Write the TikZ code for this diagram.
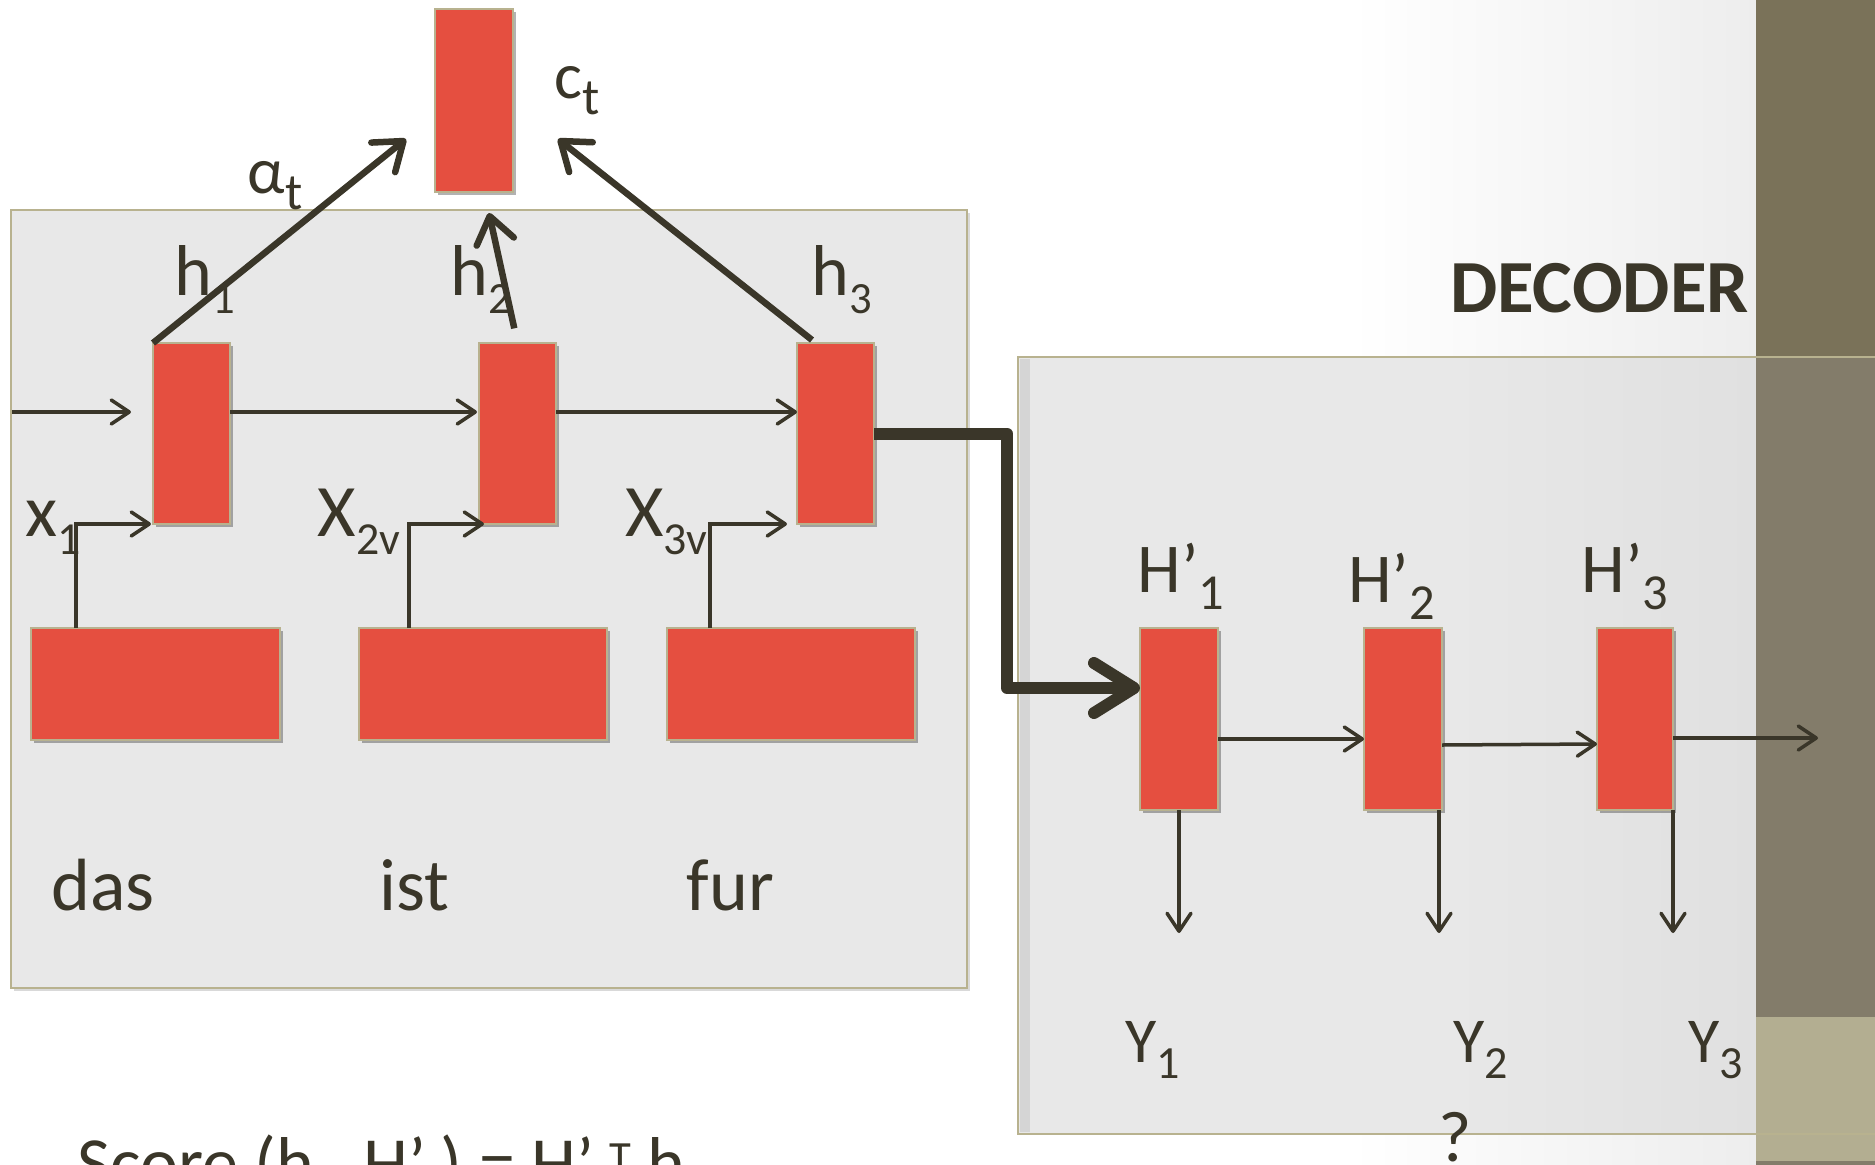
\documentclass[tikz,border=0pt]{standalone}
\usepackage{fontspec}
\setmainfont{Carlito}
\usepackage{graphicx}
\usetikzlibrary{arrows.meta,shadows}
\definecolor{redf}{HTML}{E54F40}
\definecolor{tanb}{HTML}{B8B28F}
\definecolor{boxf}{HTML}{E8E8E8}
\definecolor{boxr}{HTML}{E0E0E0}
\definecolor{ink}{HTML}{3A3629}
\definecolor{bandA}{HTML}{7A7259}
\definecolor{bandB}{HTML}{837C6A}
\definecolor{bandC}{HTML}{B3AE91}
\newcommand\sbx[1]{\raisebox{-0.25em}{\scalebox{0.62}{#1}}}
\newcommand\sbh[1]{\raisebox{-0.25em}{\scalebox{0.72}{#1}}}
\newcommand\sbc[1]{\raisebox{-0.25em}{\scalebox{0.78}{#1}}}
\newcommand\spx[1]{\raisebox{0.2em}{\scalebox{0.62}{#1}}}
\begin{document}
\begin{tikzpicture}[x=1pt,y=-1pt,
 redbox/.style={draw=tanb, line width=2pt, fill=redf, inner sep=0pt, outer sep=0pt,
   drop shadow={shadow xshift=3pt, shadow yshift=-3pt, opacity=0.3, fill=black}},
 panel/.style={draw=tanb, line width=2.5pt, fill=boxf, inner sep=0pt, outer sep=0pt,
   drop shadow={shadow xshift=3pt, shadow yshift=-3pt, opacity=0.15, fill=black}},
 lbl/.style={inner sep=0pt, anchor=base, text=ink, font=\fontsize{72}{86}\selectfont},
 thinarrow/.style={draw=ink, line width=3.5pt, -{Straight Barb[length=18pt,width=24pt,round]}},
 attarrow/.style={draw=ink, line width=6.5pt, -{Straight Barb[length=26pt,width=38pt,round]}},
 bigarrow/.style={draw=ink, line width=12pt, line join=round, -{Straight Barb[length=40pt,width=50pt,round]}},
]
\useasboundingbox (0,0) rectangle (1875,1165);
\fill[white] (0,0) rectangle (1875,1165);
\shade[left color=white, right color=black!7] (1350,0) rectangle (1756,1165);

% encoder panel
\node[panel, minimum width=956pt, minimum height=778pt] (enc) at (489,599) {};

% decoder panel (fill) and right band
\fill[boxf] (1018,357) rectangle (1450,1134);
\shade[left color=boxf, right color=boxr] (1450,357) rectangle (1756,1134);
\fill[black, opacity=0.08] (1020,359) rectangle (1030,1132);
\fill[bandA] (1756,0) rectangle (1875,357);
\fill[bandB] (1756,357) rectangle (1875,1017);
\fill[bandC] (1756,1017) rectangle (1875,1161);
\fill[bandB] (1756,1161) rectangle (1875,1165);
\draw[tanb, line width=2.5pt] (1880,357) -- (1018,357) -- (1018,1134) -- (1880,1134);

% red blocks
\node[redbox, minimum width=78pt, minimum height=183pt] (ct) at (474,100.5) {};
\node[redbox, minimum width=77pt, minimum height=181pt] (h1) at (191.5,433.5) {};
\node[redbox, minimum width=77pt, minimum height=181pt] (h2) at (517.5,433.5) {};
\node[redbox, minimum width=77pt, minimum height=181pt] (h3) at (835.5,433.5) {};
\node[redbox, minimum width=249pt, minimum height=112pt] (w1) at (155.5,684) {};
\node[redbox, minimum width=248pt, minimum height=112pt] (w2) at (483,684) {};
\node[redbox, minimum width=248pt, minimum height=112pt] (w3) at (791,684) {};
\node[redbox, minimum width=78pt, minimum height=182pt] (H1) at (1179,719) {};
\node[redbox, minimum width=78pt, minimum height=182pt] (H2) at (1403,719) {};
\node[redbox, minimum width=76pt, minimum height=182pt] (H3) at (1635,719) {};

% labels
\node[lbl, font=\fontsize{66}{80}\selectfont] (lct) at (577,98) {c\sbc{t}};
\node[lbl, font=\fontsize{66}{80}\selectfont] (lal) at (275,193) {α\sbc{t}};
\node[lbl] (lh1) at (205,295) {h\sbx{1}};
\node[lbl] (lh2) at (481,295) {h\sbx{2}};
\node[lbl] (lh3) at (841.5,295) {h\sbx{3}};
\node[lbl, font=\fontsize{74}{88}\selectfont] (lx1) at (53.5,536) {x\sbx{1}};
\node[lbl, font=\fontsize{74}{88}\selectfont] (lx2) at (359,536) {X\sbx{2v}};
\node[lbl, font=\fontsize{74}{88}\selectfont] (lx3) at (666.5,536) {X\sbx{3v}};
\node[lbl, font=\fontsize{74}{88}\selectfont] (wd1) at (103,910) {das};
\node[lbl, font=\fontsize{74}{88}\selectfont] (wd2) at (414.5,910) {ist};
\node[lbl, font=\fontsize{74}{88}\selectfont] (wd3) at (730.5,910) {fur};
\node[lbl, font=\fontsize{70}{84}\selectfont] (lH1) at (1181,592) {H’\sbh{1}};
\node[lbl, font=\fontsize{70}{84}\selectfont] (lH2) at (1391.5,602) {H’\sbh{2}};
\node[lbl, font=\fontsize{70}{84}\selectfont] (lH3) at (1625,592) {H’\sbh{3}};
\node[lbl, font=\fontsize{64}{76}\selectfont] (lY1) at (1153,1062) {Y\sbh{1}};
\node[lbl, font=\fontsize{64}{76}\selectfont] (lY2) at (1481,1062) {Y\sbh{2}};
\node[lbl, font=\fontsize{64}{76}\selectfont] (lY3) at (1716,1062) {Y\sbh{3}};
\node[lbl, font=\bfseries\fontsize{75}{90}\selectfont] (dec) at (1599.5,312) {DECODER};
\node[lbl, anchor=base west] (score) at (77,1187) {Score (h\sbx{t}, H’\sbx{t}) = H’\sbx{t}\spx{T} h\sbx{t}};
\node[lbl] (qm) at (1455,1161) {?};

% encoder recurrent arrows
\coordinate (in0) at (12,412);
\draw[thinarrow] (in0) -- ([xshift=-22pt]h1.west |- in0);
\draw[thinarrow] (h1.east |- in0) -- ([xshift=-2pt]h2.west |- in0);
\draw[thinarrow] (h2.east |- in0) -- (h3.west |- in0);

% inputs
\draw[thinarrow] ([xshift=45pt]w1.north west) |- ([xshift=-2pt]h1.south west);
\draw[thinarrow] ([xshift=50pt]w2.north west) |- ([xshift=5pt]h2.south west);
\draw[thinarrow] ([xshift=43pt]w3.north west) |- ([xshift=-10pt]h3.south west);

% attention arrows
\coordinate (ta) at (406,139);
\coordinate (tb) at (489,213);
\coordinate (tc) at (558,139);
\draw[attarrow] (h1.north west) -- (ta);
\draw[attarrow, shorten <=15pt] (h2.north) -- (tb);
\draw[attarrow] ([xshift=15pt,yshift=3pt]h3.north west) -- (tc);

% encoder to decoder
\coordinate (bend) at (1007,688);
\draw[bigarrow] (h3.east) -| (bend) -- ([yshift=31pt]H1.west);

% decoder arrows
\coordinate (out3) at (1818,738);
\draw[thinarrow] ([yshift=-20pt]H1.east) -- ([yshift=-20pt]H2.west);
\draw[thinarrow] ([yshift=-26pt]H2.east) -- ([yshift=-25pt]H3.west);
\draw[thinarrow] ([yshift=-19pt]H3.east) -- (out3);
\coordinate (d1) at (1179,933);
\coordinate (d2) at (1439,933);
\coordinate (d3) at (1673,933);
\draw[thinarrow] (H1.south) -- (d1);
\draw[thinarrow] ([xshift=-3pt]H2.south east) -- (d2);
\draw[thinarrow] (H3.south east) -- (d3);
\end{tikzpicture}
\end{document}
